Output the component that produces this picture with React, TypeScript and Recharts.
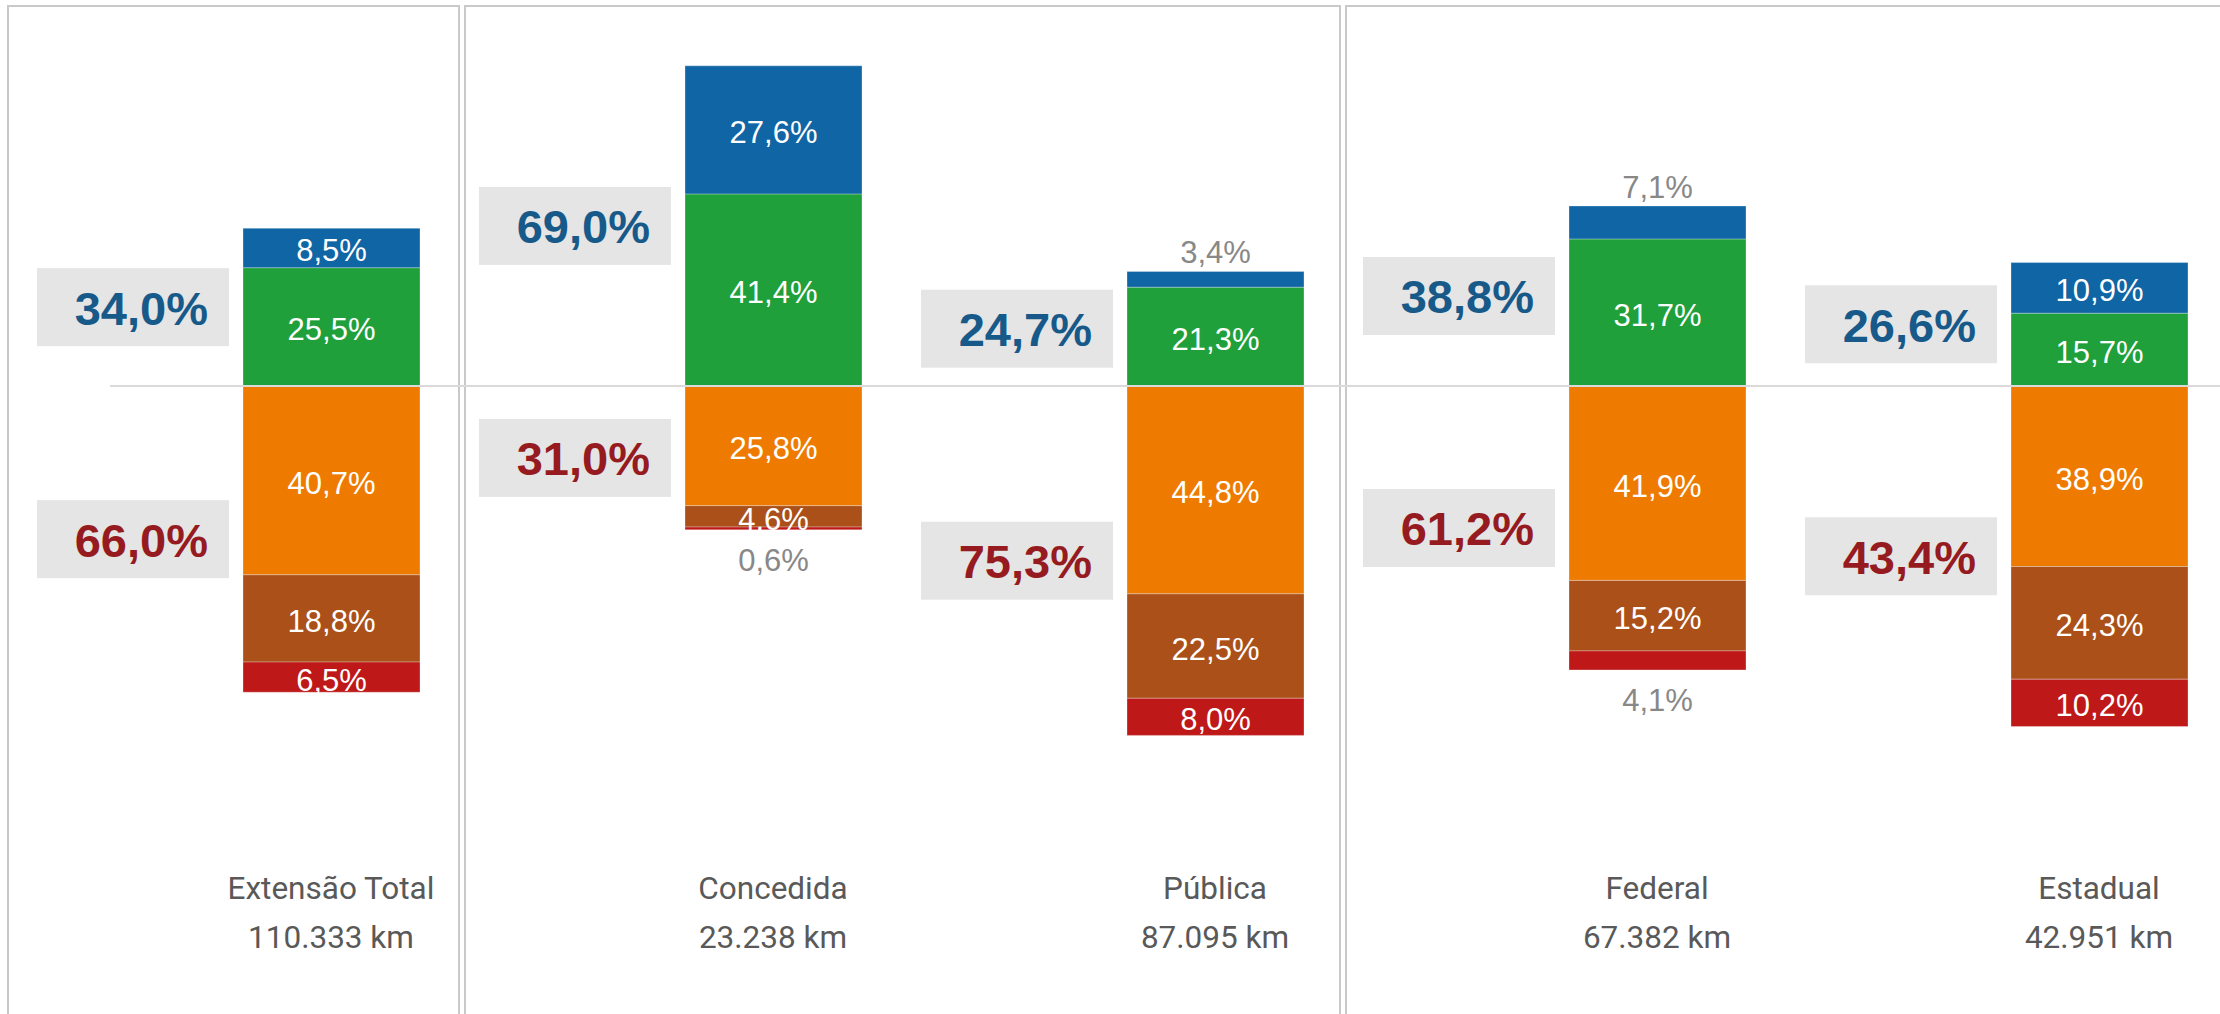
import { Bar, BarChart, LabelList, ReferenceLine, XAxis, YAxis } from "recharts"

const categories = ["Extensão Total", "Concedida", "Pública", "Federal", "Estadual"]
const extensions = ["110.333 km", "23.238 km", "87.095 km", "67.382 km", "42.951 km"]

// share of the network in each condition (%)
const otimo = [8.5, 27.6, 3.4, 7.1, 10.9]
const bom = [25.5, 41.4, 21.3, 31.7, 15.7]
const regular = [40.7, 25.8, 44.8, 41.9, 38.9]
const ruim = [18.8, 4.6, 22.5, 15.2, 24.3]
const pessimo = [6.5, 0.6, 8.0, 4.1, 10.2]

// totals as printed in the grey boxes
const positiveTotals = [34.0, 69.0, 24.7, 38.8, 26.6]
const negativeTotals = [66.0, 31.0, 75.3, 61.2, 43.4]

const data = categories.map((name, i) => ({
  name,
  otimo: otimo[i],
  bom: bom[i],
  regular: -regular[i],
  ruim: -ruim[i],
  pessimo: -pessimo[i],
}))

const LABEL_FONT = "'Liberation Sans', Arial, sans-serif"

const pct = (v: number) => v.toFixed(1).replace(".", ",") + "%"

function rectOf(p: any) {
  const vb = p.viewBox && p.viewBox.width != null ? p.viewBox : p
  const x = Number(vb.x)
  const y = Number(vb.y)
  const w = Number(vb.width)
  const h = Number(vb.height)
  return { x, top: h < 0 ? y + h : y, w, h: Math.abs(h) }
}

// white label in the segment; small end segments get a grey label outside
const segmentLabel =
  (values: number[], outside: "above" | "below" | null, limit: number) =>
  (p: any) => {
    const i = typeof p.index === "number" ? p.index : 0
    const v = values[i]
    const r = rectOf(p)
    const cx = r.x + r.w / 2
    const common = {
      x: cx,
      textAnchor: "middle" as const,
      fontFamily: LABEL_FONT,
      fontSize: 31,
    }
    if (outside === "above" && v < limit) {
      return (
        <text {...common} y={r.top - 8} fill="#888888">
          {pct(v)}
        </text>
      )
    }
    if (outside === "below" && v < limit) {
      return (
        <text {...common} y={r.top + r.h + 41} fill="#888888">
          {pct(v)}
        </text>
      )
    }
    return (
      <text {...common} y={r.top + r.h / 2 + 3} dominantBaseline="central" fill="#ffffff">
        {pct(v)}
      </text>
    )
  }

function TotalBox({ right, mid, label, color }: { right: number; mid: number; label: string; color: string }) {
  return (
    <g>
      <rect x={right - 192} y={mid - 39} width={192} height={78} fill="#e5e5e5" />
      <text
        x={right - 21}
        y={mid + 1}
        textAnchor="end"
        dominantBaseline="central"
        fontFamily={LABEL_FONT}
        fontWeight="bold"
        fontSize={47}
        fill={color}
      >
        {label}
      </text>
    </g>
  )
}

const positiveBox = (p: any) => {
  const i = typeof p.index === "number" ? p.index : 0
  const r = rectOf(p)
  const zero = r.top + r.h
  const perUnit = r.h / bom[i]
  const mid = zero - ((bom[i] + otimo[i]) * perUnit) / 2
  return <TotalBox right={r.x - 14} mid={mid} label={pct(positiveTotals[i])} color="#175a8a" />
}

const negativeBox = (p: any) => {
  const i = typeof p.index === "number" ? p.index : 0
  const r = rectOf(p)
  const zero = r.top
  const perUnit = r.h / regular[i]
  const mid = zero + ((regular[i] + ruim[i] + pessimo[i]) * perUnit) / 2
  return <TotalBox right={r.x - 14} mid={mid} label={pct(negativeTotals[i])} color="#951b20" />
}

function CategoryTick(p: any) {
  const name = p.payload?.value
  const i = categories.indexOf(name)
  return (
    <g fontFamily="Roboto, sans-serif" fontSize={31.5} fill="#595959">
      <text x={p.x} y={899} textAnchor="middle">
        {name}
      </text>
      <text x={p.x} y={948} textAnchor="middle">
        {extensions[i]}
      </text>
    </g>
  )
}

const panels = [
  { left: 7, width: 453 },
  { left: 464, width: 877 },
  { left: 1345, width: 1000 },
]

export default function App() {
  const seam = { stroke: "rgba(255,255,255,0.3)", strokeWidth: 1 }
  return (
    <div
      style={{
        position: "absolute",
        left: 0,
        top: 0,
        width: 2220,
        height: 1014,
        overflow: "hidden",
        background: "#ffffff",
      }}
    >
      {panels.map((p, i) => (
        <div
          key={i}
          style={{
            position: "absolute",
            left: p.left,
            top: 5,
            width: p.width,
            height: 1100,
            boxSizing: "border-box",
            border: "2px solid #c9c9c9",
          }}
        />
      ))}
      <div style={{ position: "absolute", left: 0, top: 0 }}>
        <BarChart
          width={2320}
          height={1014}
          data={data}
          stackOffset="sign"
          barSize={177}
          margin={{ top: 14.8, right: 0, bottom: 0, left: 110 }}
        >
          <XAxis
            dataKey="name"
            axisLine={false}
            tickLine={false}
            interval={0}
            height={164}
            tick={CategoryTick}
          />
          <YAxis hide width={0} domain={[-100, 80]} />
          <Bar dataKey="bom" stackId="s" fill="#1fa03b" {...seam} isAnimationActive={false}>
            <LabelList dataKey="bom" content={segmentLabel(bom, null, 0)} />
            <LabelList dataKey="bom" content={positiveBox} />
          </Bar>
          <Bar dataKey="otimo" stackId="s" fill="#1065a5" {...seam} isAnimationActive={false}>
            <LabelList dataKey="otimo" content={segmentLabel(otimo, "above", 8)} />
          </Bar>
          <Bar dataKey="regular" stackId="s" fill="#ee7b00" {...seam} isAnimationActive={false}>
            <LabelList dataKey="regular" content={segmentLabel(regular, null, 0)} />
            <LabelList dataKey="regular" content={negativeBox} />
          </Bar>
          <Bar dataKey="ruim" stackId="s" fill="#aa5018" {...seam} isAnimationActive={false}>
            <LabelList dataKey="ruim" content={segmentLabel(ruim, null, 0)} />
          </Bar>
          <Bar dataKey="pessimo" stackId="s" fill="#be1818" {...seam} isAnimationActive={false}>
            <LabelList dataKey="pessimo" content={segmentLabel(pessimo, "below", 5)} />
          </Bar>
          <ReferenceLine y={0} stroke="#dadada" strokeWidth={2} />
        </BarChart>
      </div>
    </div>
  )
}
